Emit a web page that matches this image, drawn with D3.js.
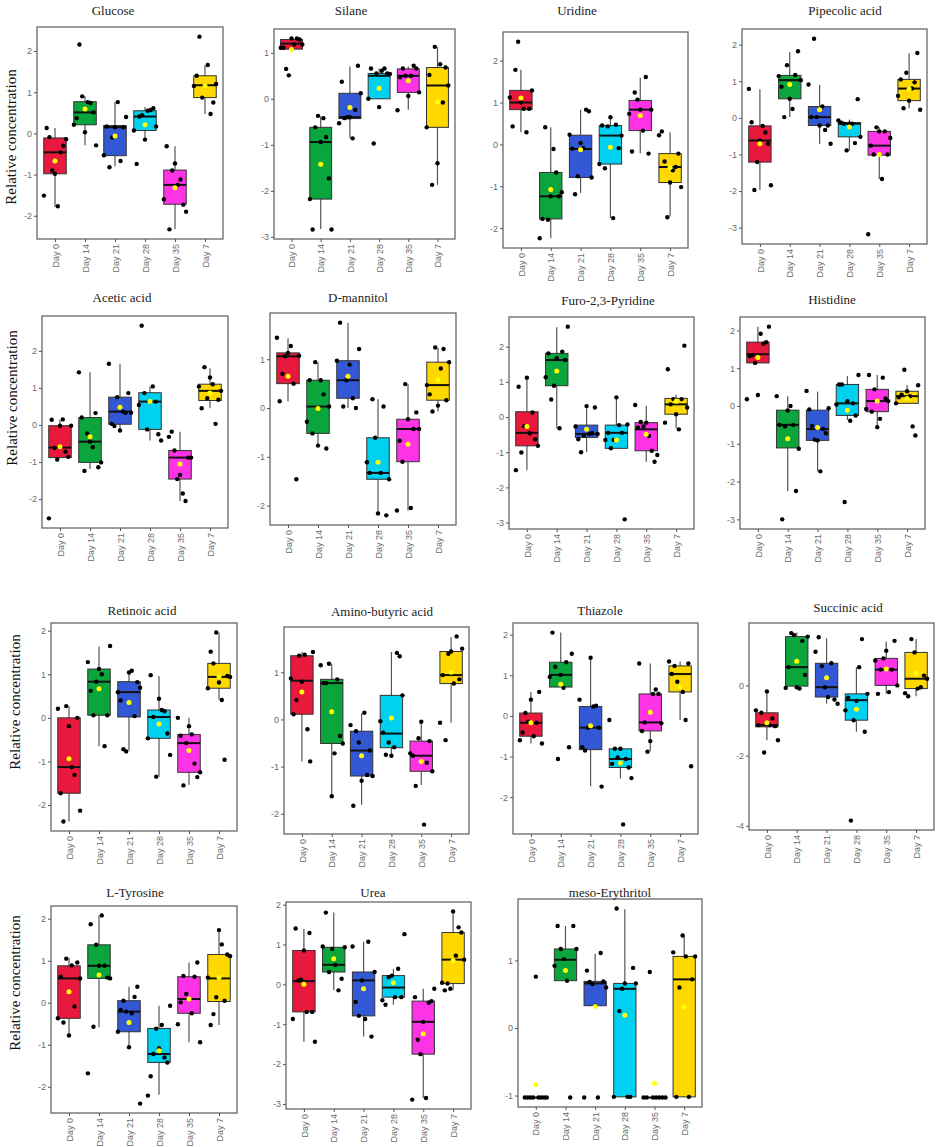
<!DOCTYPE html>
<html>
<head>
<meta charset="utf-8">
<script src="https://cdn.jsdelivr.net/npm/d3@7"></script>
<style>
body{margin:0;background:#fff;}
</style>
</head>
<body>
<div id="chart"></div>
<script>
// groups in the order the original plot shows them
const days = ['Day 0','Day 14','Day 21','Day 28','Day 35','Day 7'];
const fills = ['#e8193c','#0aa53d','#3358d6','#00d1f0','#ff33e6','#ffd800'];

const metabolites = ['Glucose','Silane','Uridine','Pipecolic acid',
  'Acetic acid','D-mannitol','Furo-2,3-Pyridine','Histidine',
  'Retinoic acid','Amino-butyric acid','Thiazole','Succinic acid',
  'L-Tyrosine','Urea','meso-Erythritol'];

// box stats per group: [lower whisker, Q1, median, Q3, upper whisker, mean]
const glucoseStats = [[-1.78,-0.98,-0.46,-0.11,0.13,-0.67],[-0.29,0.21,0.51,0.77,0.90,0.59],[-0.80,-0.54,0.15,0.19,0.76,-0.06],
  [-0.15,0.07,0.41,0.55,0.64,0.21],[-2.33,-1.72,-1.25,-0.89,-0.31,-1.32],[0.47,0.87,1.17,1.40,1.66,1.15]];
const glucosePoints = [[-1.51,0.13,-0.09,-0.90,-0.98,-1.77,-0.46,-0.30,-0.14],[0.21,0.37,2.16,0.90,0.03,0.76,0.74,0.51,-0.29],
  [-0.53,0.17,-0.82,-0.10,0.15,0.76,-0.67,0.15,0.40],[0.07,-0.74,0.41,0.44,-0.15,0.55,0.57,0.61,0.17],
  [-1.60,-0.31,-2.33,-0.90,-0.73,-1.25,-1.12,-1.73,-1.90],[1.15,1.40,2.35,0.87,1.15,1.66,0.47,0.75,1.20]];

const silaneStats = [[1.08,1.08,1.20,1.29,1.31,1.07],[-2.83,-2.18,-0.94,-0.62,-0.38,-1.42],[-0.86,-0.43,-0.40,0.12,0.70,-0.19],
  [0.00,0.00,0.50,0.55,0.66,0.23],[-0.24,0.14,0.50,0.65,0.70,0.39],[-1.87,-0.62,0.29,0.68,1.13,-0.07]];
const silanePoints = [[1.11,1.11,0.65,0.51,1.31,1.18,1.31,1.29,1.18],[-2.18,-2.84,-0.62,-0.37,-0.94,-0.42,-0.83,-1.73,-2.84],
  [-0.53,0.37,-0.42,-0.40,-0.40,-0.86,-0.24,0.72,0.12],[0.00,0.66,-0.97,0.55,-0.18,0.61,0.66,0.55,0.54],
  [-0.25,0.47,0.66,0.50,0.06,0.50,0.72,0.66,0.14],[-0.62,0.52,-1.87,1.13,-1.40,0.75,-0.08,0.68,0.29]];

const uridineStats = [[0.29,0.83,1.00,1.29,1.78,1.11],[-2.24,-1.78,-1.24,-0.67,0.41,-1.08],[-1.16,-0.79,-0.11,0.22,0.83,-0.13],
  [-1.76,-0.47,0.21,0.45,0.63,-0.07],[-0.21,0.33,0.83,1.05,1.59,0.69],[-1.72,-0.91,-0.54,-0.22,0.29,-0.55]];
const uridinePoints = [[1.12,0.43,1.78,2.45,1.00,0.85,0.29,0.85,1.29],[-2.24,-1.78,0.41,-1.80,-1.24,-0.11,-0.67,-1.24,-1.14],
  [0.23,-0.10,-1.19,-0.76,0.03,-0.09,0.83,0.79,-0.79],[-0.47,0.45,-0.57,0.43,0.65,-1.76,0.47,-0.09,0.21],
  [0.73,-0.17,1.24,1.07,0.83,0.33,1.61,-0.22,0.83],[0.22,0.31,-0.41,-1.74,-0.91,-0.62,-0.54,-0.22,-1.02]];

const pipecolicStats = [[-1.97,-1.21,-0.62,-0.22,0.78,-0.71],[0.02,0.52,1.03,1.16,1.80,0.91],[-0.71,-0.21,0.02,0.31,0.90,0.22],
  [-0.89,-0.52,-0.16,-0.13,-0.05,-0.25],[-1.67,-1.02,-0.76,-0.37,-0.26,-1.00],[0.26,0.47,0.80,1.05,1.76,0.79]];
const pipecolicPoints = [[0.79,-0.12,-1.97,-1.21,-0.62,-0.22,-0.40,-0.71,-1.84],[1.14,0.85,0.02,1.44,0.52,0.24,1.17,1.82,1.03],
  [0.91,0.02,2.16,0.02,-0.21,0.31,-0.33,-0.21,-0.71],[-0.07,-0.13,-0.16,-0.89,-0.16,-0.16,-0.69,0.51,-0.52],
  [-3.18,-0.76,-1.00,-0.26,-0.37,-1.67,-0.37,-1.00,-0.55],[0.60,1.05,0.26,1.23,0.47,0.80,0.97,1.77,0.22]];

const aceticStats = [[-0.90,-0.88,-0.61,-0.02,0.14,-0.59],[-1.19,-1.01,-0.45,0.20,1.42,-0.32],[-0.18,0.02,0.36,0.75,1.65,0.48],
  [-0.42,-0.12,0.63,0.87,1.04,0.63],[-2.05,-1.46,-0.88,-0.69,-0.18,-1.05],[0.45,0.66,0.92,1.10,1.53,0.86]];
const aceticPoints = [[-2.52,0.14,-0.62,-0.93,-0.02,0.15,-0.72,-0.86,-0.02],[1.42,0.20,-1.24,-0.23,-0.45,-0.60,0.32,-1.14,-1.01],
  [1.65,0.03,-0.03,0.75,-0.15,0.36,0.33,0.86,0.33],[0.54,2.68,0.86,-0.12,0.63,1.04,0.63,-0.25,-0.42],
  [-0.32,-0.18,-0.69,-1.46,-1.35,-1.85,-2.05,-0.88,-0.88],[1.04,0.45,1.56,0.72,1.28,1.10,0.03,0.68,0.92]];

const mannitolStats = [[0.14,0.50,1.06,1.13,1.43,0.65],[-0.77,-0.52,0.03,0.57,0.94,-0.01],[0.00,0.20,0.57,0.97,1.75,0.65],
  [-2.20,-1.46,-1.33,-0.61,0.18,-1.11],[-2.10,-1.10,-0.43,-0.23,0.49,-0.74],[-0.07,0.16,0.47,0.94,1.23,0.58]];
const mannitolPoints = [[1.44,0.14,0.70,1.06,1.13,1.27,0.50,-1.46,1.07],[-0.28,0.57,-0.52,0.94,-0.77,0.57,0.28,-0.83,0.03],
  [0.97,1.75,0.03,0.57,0.89,0.20,0.00,1.21],[-1.11,-1.33,0.18,-0.61,-2.16,-1.33,0.03,-2.20,-1.46],
  [-2.10,-0.67,-1.10,0.49,-0.23,-2.05,-0.43,-0.09,-0.43],[0.47,0.28,-0.07,1.24,0.05,0.81,1.21,0.16,0.94]];

const furoStats = [[-1.51,-0.82,-0.45,0.15,1.13,-0.27],[-0.32,0.89,1.62,1.81,2.55,1.31],[-1.00,-0.58,-0.48,-0.23,0.25,-0.35],
  [-0.89,-0.89,-0.45,-0.23,0.58,-0.65],[-1.27,-0.96,-0.35,-0.16,0.32,-0.49],[-0.32,0.08,0.36,0.53,0.63,0.45]];
const furoPoints = [[-1.51,0.86,-1.01,-0.26,1.12,-0.46,0.13,-0.63,-0.82],[1.13,1.81,0.50,0.89,1.67,-0.32,1.86,1.62,2.57],
  [-0.27,-0.63,-1.00,-0.53,0.31,-0.48,-0.46,0.27,-0.48],[-0.65,-0.45,-0.89,-0.65,0.56,-0.23,-0.45,-2.91,-0.21],
  [0.34,-0.30,-0.14,-0.27,-0.16,-0.54,-0.96,-1.27,-1.08],[-0.16,1.36,0.36,0.51,0.08,-0.35,0.51,2.03,0.27]];

const histidineStats = [[1.14,1.14,1.37,1.69,2.10,1.28],[-2.25,-1.11,-0.50,-0.11,0.26,-0.87],[-1.73,-0.91,-0.61,-0.11,0.38,-0.57],
  [-0.37,-0.25,0.07,0.57,0.79,-0.11],[-0.56,-0.15,0.13,0.44,0.82,0.13],[0.07,0.07,0.26,0.39,0.55,0.20]];
const histidinePoints = [[0.18,1.32,1.34,1.14,0.29,1.91,1.65,1.69,2.10],[0.26,-0.50,-3.00,-0.54,-0.12,0.00,-0.50,-2.25,-1.13],
  [0.40,-0.09,-0.53,-0.89,-0.91,-1.73,-0.61,-0.72,-0.06],[0.04,0.57,0.57,-2.54,0.13,-0.39,0.07,-0.25,0.82],
  [-0.08,0.82,-0.15,0.44,-0.56,-0.34,0.75,0.20,0.13],[0.07,0.23,0.30,0.96,0.39,0.26,-0.54,-0.78,0.55]];

const retinoicStats = [[-2.38,-1.73,-1.13,0.00,0.27,-0.94],[-0.65,0.06,0.83,1.12,1.64,0.67],[-0.75,0.02,0.59,0.83,1.04,0.35],
  [-1.35,-0.47,0.02,0.18,0.96,-0.14],[-1.54,-1.25,-0.58,-0.38,0.00,-0.75],[0.42,0.68,0.94,1.25,1.96,0.95]];
const retinoicPoints = [[0.21,-1.73,-2.38,0.27,-0.19,-1.13,-1.31,0.00,-2.13],[1.28,0.62,0.06,0.83,1.12,1.00,-0.65,0.06,1.65],
  [0.59,0.40,-0.72,-0.77,1.04,1.08,0.04,0.82,0.69],[-0.47,0.98,0.02,-1.35,0.44,0.18,0.15,-0.36,-0.85],
  [0.00,-0.41,-1.55,-0.58,-0.19,-0.38,-1.05,-1.36,-1.25],[0.68,1.52,1.25,1.96,0.81,0.41,-0.96,0.96,0.94]];

const aminoStats = [[-0.89,0.11,0.82,1.35,1.43,0.58],[-1.63,-0.51,0.77,0.85,1.18,0.16],[-1.81,-1.20,-0.66,-0.25,0.13,-0.77],
  [-0.75,-0.60,-0.30,0.51,1.43,0.03],[-1.39,-1.10,-0.77,-0.46,-0.04,-0.89],[-0.07,0.76,0.94,1.44,1.75,1.00]];
const aminoPoints = [[0.87,0.11,0.41,1.35,0.80,1.37,-0.21,-0.89,1.43],[1.15,0.77,0.77,1.18,-1.63,-0.72,0.85,-0.35,-0.51],
  [-0.12,-1.83,-0.25,-0.49,-1.30,0.14,-1.18,-0.66,-1.20],[-0.04,-0.28,-0.75,-0.49,-0.77,-0.59,1.41,1.34,0.51],
  [-0.72,-0.77,-1.41,-0.40,-0.05,-2.23,-0.92,-0.46,-1.10],[-0.07,0.94,-0.44,1.39,1.44,0.76,1.76,0.85,1.50]];

const thiazoleStats = [[-0.68,-0.50,-0.17,0.07,0.59,-0.17],[0.71,0.71,1.01,1.32,2.05,0.78],[-1.73,-0.83,-0.29,0.23,1.40,-0.24],
  [-1.54,-1.27,-1.06,-0.81,-0.81,-1.16],[-0.87,-0.37,-0.16,0.54,1.29,0.09],[-0.10,0.59,1.03,1.23,1.34,0.70]];
const thiazolePoints = [[-0.60,-0.41,0.07,-0.14,0.40,-0.50,-0.17,0.59,-0.68],[0.96,2.05,1.21,-1.06,1.01,0.69,1.32,-0.77,1.53],
  [0.40,-0.77,-0.85,-0.29,1.43,0.23,0.25,-0.29,-1.74],[-0.10,-1.18,-0.81,-1.02,-0.81,-2.67,-1.06,-1.27,-1.53],
  [1.29,-0.37,-0.16,-0.88,-0.62,0.54,0.65,0.54,-0.18],[1.34,1.03,1.23,0.84,0.69,0.59,-0.10,1.29,-1.24]];

const succinicStats = [[-1.56,-1.18,-1.13,-0.78,-0.17,-1.06],[-0.08,-0.02,0.52,1.39,1.51,0.69],[-0.52,-0.33,-0.05,0.63,1.34,0.22],
  [-1.32,-0.99,-0.42,-0.24,0.52,-0.68],[-0.24,0.00,0.45,0.77,1.25,0.47],[-0.31,-0.09,0.19,0.94,1.32,0.35]];
const succinicPoints = [[-0.71,-1.13,-0.78,-1.91,-0.17,-1.13,-0.94,-1.16,-1.56],[-0.07,0.52,1.49,1.44,-0.05,-0.09,1.27,0.30,1.39],
  [0.96,1.37,0.55,-0.05,-0.33,0.63,-0.40,-0.52],[-0.71,-0.35,-3.85,-0.99,-0.44,0.52,1.32,-1.32,-0.24],
  [0.71,-0.24,0.45,0.77,0.99,-0.19,0.45,1.27,0.00],[-0.22,-0.31,1.32,0.94,-0.09,-0.05,0.28,0.19]];

const tyrosineStats = [[-0.78,-0.37,0.58,0.88,1.07,0.26],[-0.58,0.58,0.88,1.38,2.08,0.66],[-1.06,-0.69,-0.21,0.05,0.38,-0.47],
  [-2.19,-1.42,-1.22,-0.61,-0.07,-1.14],[-0.94,-0.25,0.09,0.62,0.96,0.09],[-0.53,0.03,0.58,1.15,1.73,0.60]];
const tyrosinePoints = [[-0.37,0.62,-0.47,1.05,-0.78,0.89,-0.09,0.96,0.58],[-1.68,1.87,-0.57,1.38,0.88,2.08,0.88,0.60,0.58],
  [-0.69,-0.17,0.05,-0.21,-1.06,-0.25,0.14,0.38,-2.40],[-2.21,-1.75,-1.22,-0.62,-1.08,-0.53,-1.30,-1.42,-0.07],
  [-0.51,0.01,0.64,0.21,0.09,-0.25,0.62,0.96,-0.94],[0.60,-0.53,-0.27,0.13,1.73,1.39,0.05,1.15,1.11]];

const ureaStats = [[-1.44,-0.69,0.08,0.85,1.39,0.00],[-0.15,0.31,0.49,0.93,1.80,0.64],[-1.31,-0.79,0.10,0.31,1.07,-0.11],
  [-0.51,-0.32,-0.08,0.22,0.39,0.04],[-2.85,-1.75,-0.94,-0.42,-0.11,-1.24],[-0.15,0.02,0.62,1.30,1.83,0.60]];
const ureaPoints = [[-0.87,1.40,0.10,0.12,0.85,-0.69,1.29,-0.69,-1.44],[0.95,1.80,0.31,0.89,0.49,-0.15,0.14,0.93],
  [0.95,-0.44,-0.79,0.10,-0.87,1.07,-1.31,0.31],[-0.40,-0.51,0.18,0.22,-0.32,0.39,-0.32,1.26],
  [-2.89,-0.32,-1.39,-1.75,-0.94,-2.85,-0.46,-0.42,-0.11],[0.04,-0.15,0.02,-0.11,1.83,0.72,1.43,1.30,0.62]];

const erythritolStats = [[-1.03,-1.03,-1.03,-1.03,-1.03,-0.84],[0.70,0.70,1.01,1.17,1.51,0.85],[0.33,0.33,0.66,0.69,1.10,0.32],
  [-1.02,-1.02,0.58,0.66,1.76,0.19],[-1.03,-1.03,-1.03,-1.03,-1.03,-0.82],[-1.02,-1.02,0.72,1.06,1.37,0.31]];
const erythritolPoints = [[-1.03,-1.03,-1.03,-1.03,0.76,-1.03,-1.03,-1.03,-1.03],[0.92,1.51,1.17,1.02,0.70,-1.03,1.51,1.17],
  [-1.03,0.85,0.68,0.65,0.33,-1.03,1.11,0.69,0.60],[-1.02,1.77,0.25,0.58,0.66,-1.02,-1.02,0.89,0.66],
  [-1.03,-1.03,0.83,-1.03,-1.03,-1.03,-1.03,-1.03],[1.12,-1.02,0.60,1.37,1.06,-1.02,0.72,1.06]];

const panels = [
  {stats: glucoseStats, points: glucosePoints},
  {stats: silaneStats, points: silanePoints},
  {stats: uridineStats, points: uridinePoints},
  {stats: pipecolicStats, points: pipecolicPoints},
  {stats: aceticStats, points: aceticPoints},
  {stats: mannitolStats, points: mannitolPoints},
  {stats: furoStats, points: furoPoints},
  {stats: histidineStats, points: histidinePoints},
  {stats: retinoicStats, points: retinoicPoints},
  {stats: aminoStats, points: aminoPoints},
  {stats: thiazoleStats, points: thiazolePoints},
  {stats: succinicStats, points: succinicPoints, step: 2},
  {stats: tyrosineStats, points: tyrosinePoints},
  {stats: ureaStats, points: ureaPoints},
  {stats: erythritolStats, points: erythritolPoints}
];

// layout of the collage: panel left, top, right, bottom, title x, title y
const frames = [
  [37,27,223,239,113,10],[274,29,455,239,351,10],[503,32,688,248,577,10],[742,29,927,244,845,10],
  [42,316,228,528,122,297],[270,313,456,525,358,297],[509,317,694,529,608,300],[740,317,925,529,832,299],
  [51,623,237,831,142,610],[284,627,469,834,382,611],[513,623,698,834,600,610],[749,623,934,830,848,607],
  [51,906,237,1113,135,892],[286,902,471,1109,373,892],[518,899,702,1107,610,892]
];
const rowLabels = [[11,137],[12,398],[15,702],[15,983]];

const svg = d3.select('#chart')
  .append('svg')
  .attr('width',941)
  .attr('height',1147)
  .style('font-family','"Liberation Sans", Arial, sans-serif');

panels.forEach((p,k)=>{
  const [left,top,right,bottom,tx,ty] = frames[k];
  const vals = p.points.flat().concat(p.stats.flatMap(s=>[s[0],s[4]]));
  const ext = d3.extent(vals);
  const pad = (ext[1]-ext[0])*0.05;

  const y = d3.scaleLinear()
    .domain([ext[0]-pad, ext[1]+pad])
    .range([bottom,top]);
  const x = d3.scalePoint()
    .domain(days)
    .range([left,right])
    .padding(0.6);
  const bw = x.step()*0.75;
  const step = p.step || 1;
  const ticks = d3.range(Math.ceil(y.domain()[0]/step)*step, y.domain()[1]+1e-9, step);

  const g = svg.append('g');

  g.append('rect')
    .attr('x',left).attr('y',top)
    .attr('width',right-left).attr('height',bottom-top)
    .attr('fill','#fff');

  const groups = days.map((d,i)=>({day:d, s:p.stats[i], pts:p.points[i], fill:fills[i]}));

  // whiskers
  g.selectAll('.whisker')
    .data(groups)
    .join('line')
    .attr('x1',d=>x(d.day)).attr('x2',d=>x(d.day))
    .attr('y1',d=>y(d.s[0])).attr('y2',d=>y(d.s[4]))
    .attr('stroke','#555').attr('stroke-width',1.2);

  // boxes
  g.selectAll('.box')
    .data(groups)
    .join('rect')
    .attr('x',d=>x(d.day)-bw/2)
    .attr('width',bw)
    .attr('y',d=>y(d.s[3]))
    .attr('height',d=>y(d.s[1])-y(d.s[3]))
    .attr('fill',d=>d.fill)
    .attr('stroke','#333').attr('stroke-width',1);

  // medians
  g.selectAll('.median')
    .data(groups)
    .join('line')
    .attr('x1',d=>x(d.day)-bw/2).attr('x2',d=>x(d.day)+bw/2)
    .attr('y1',d=>y(d.s[2])).attr('y2',d=>y(d.s[2]))
    .attr('stroke','#111').attr('stroke-width',2);

  // jittered samples
  groups.forEach(gr=>{
    const n = gr.pts.length;
    g.selectAll(null)
      .data(gr.pts)
      .join('circle')
      .attr('cx',(v,i)=>x(gr.day)+(-0.37+0.74*i/(n-1))*x.step())
      .attr('cy',v=>y(v))
      .attr('r',2.2)
      .attr('fill','#000');
  });

  // means
  g.selectAll('.mean')
    .data(groups)
    .join('circle')
    .attr('cx',d=>x(d.day))
    .attr('cy',d=>y(d.s[5]))
    .attr('r',2.5)
    .attr('fill','#ffff00');

  // y axis
  const ya = g.append('g')
    .attr('transform',`translate(${left},0)`)
    .call(d3.axisLeft(y).tickValues(ticks).tickSize(3).tickPadding(2).tickFormat(d=>String(d)));
  ya.select('.domain').remove();
  ya.selectAll('.tick line').attr('stroke','#555');
  ya.selectAll('.tick text').attr('fill','#6b6b6b').style('font-size','9px');

  // x axis
  const xa = g.append('g')
    .attr('transform',`translate(0,${bottom})`)
    .call(d3.axisBottom(x).tickSize(3));
  xa.select('.domain').remove();
  xa.selectAll('.tick line').attr('stroke','#555');
  xa.selectAll('.tick text')
    .attr('fill','#6b6b6b')
    .style('font-size','9px')
    .attr('transform','rotate(-90)')
    .attr('x',-5).attr('y',0).attr('dy','0.35em')
    .attr('text-anchor','end');

  // panel border
  g.append('rect')
    .attr('x',left).attr('y',top)
    .attr('width',right-left).attr('height',bottom-top)
    .attr('fill','none')
    .attr('stroke','#5a5a5a').attr('stroke-width',1.2);

  // title
  g.append('text')
    .attr('x',tx).attr('y',ty)
    .attr('dy','0.35em')
    .attr('text-anchor','middle')
    .style('font-family','"Liberation Serif", "DejaVu Serif", serif')
    .style('font-size','13px')
    .attr('fill','#222')
    .text(metabolites[k]);
});

rowLabels.forEach(([lx,ly])=>{
  svg.append('text')
    .attr('transform',`translate(${lx},${ly}) rotate(-90)`)
    .attr('dy','0.35em')
    .attr('text-anchor','middle')
    .style('font-family','"Liberation Serif", "DejaVu Serif", serif')
    .style('font-size','15px')
    .attr('fill','#111')
    .text('Relative concentration');
});
</script>
</body>
</html>
